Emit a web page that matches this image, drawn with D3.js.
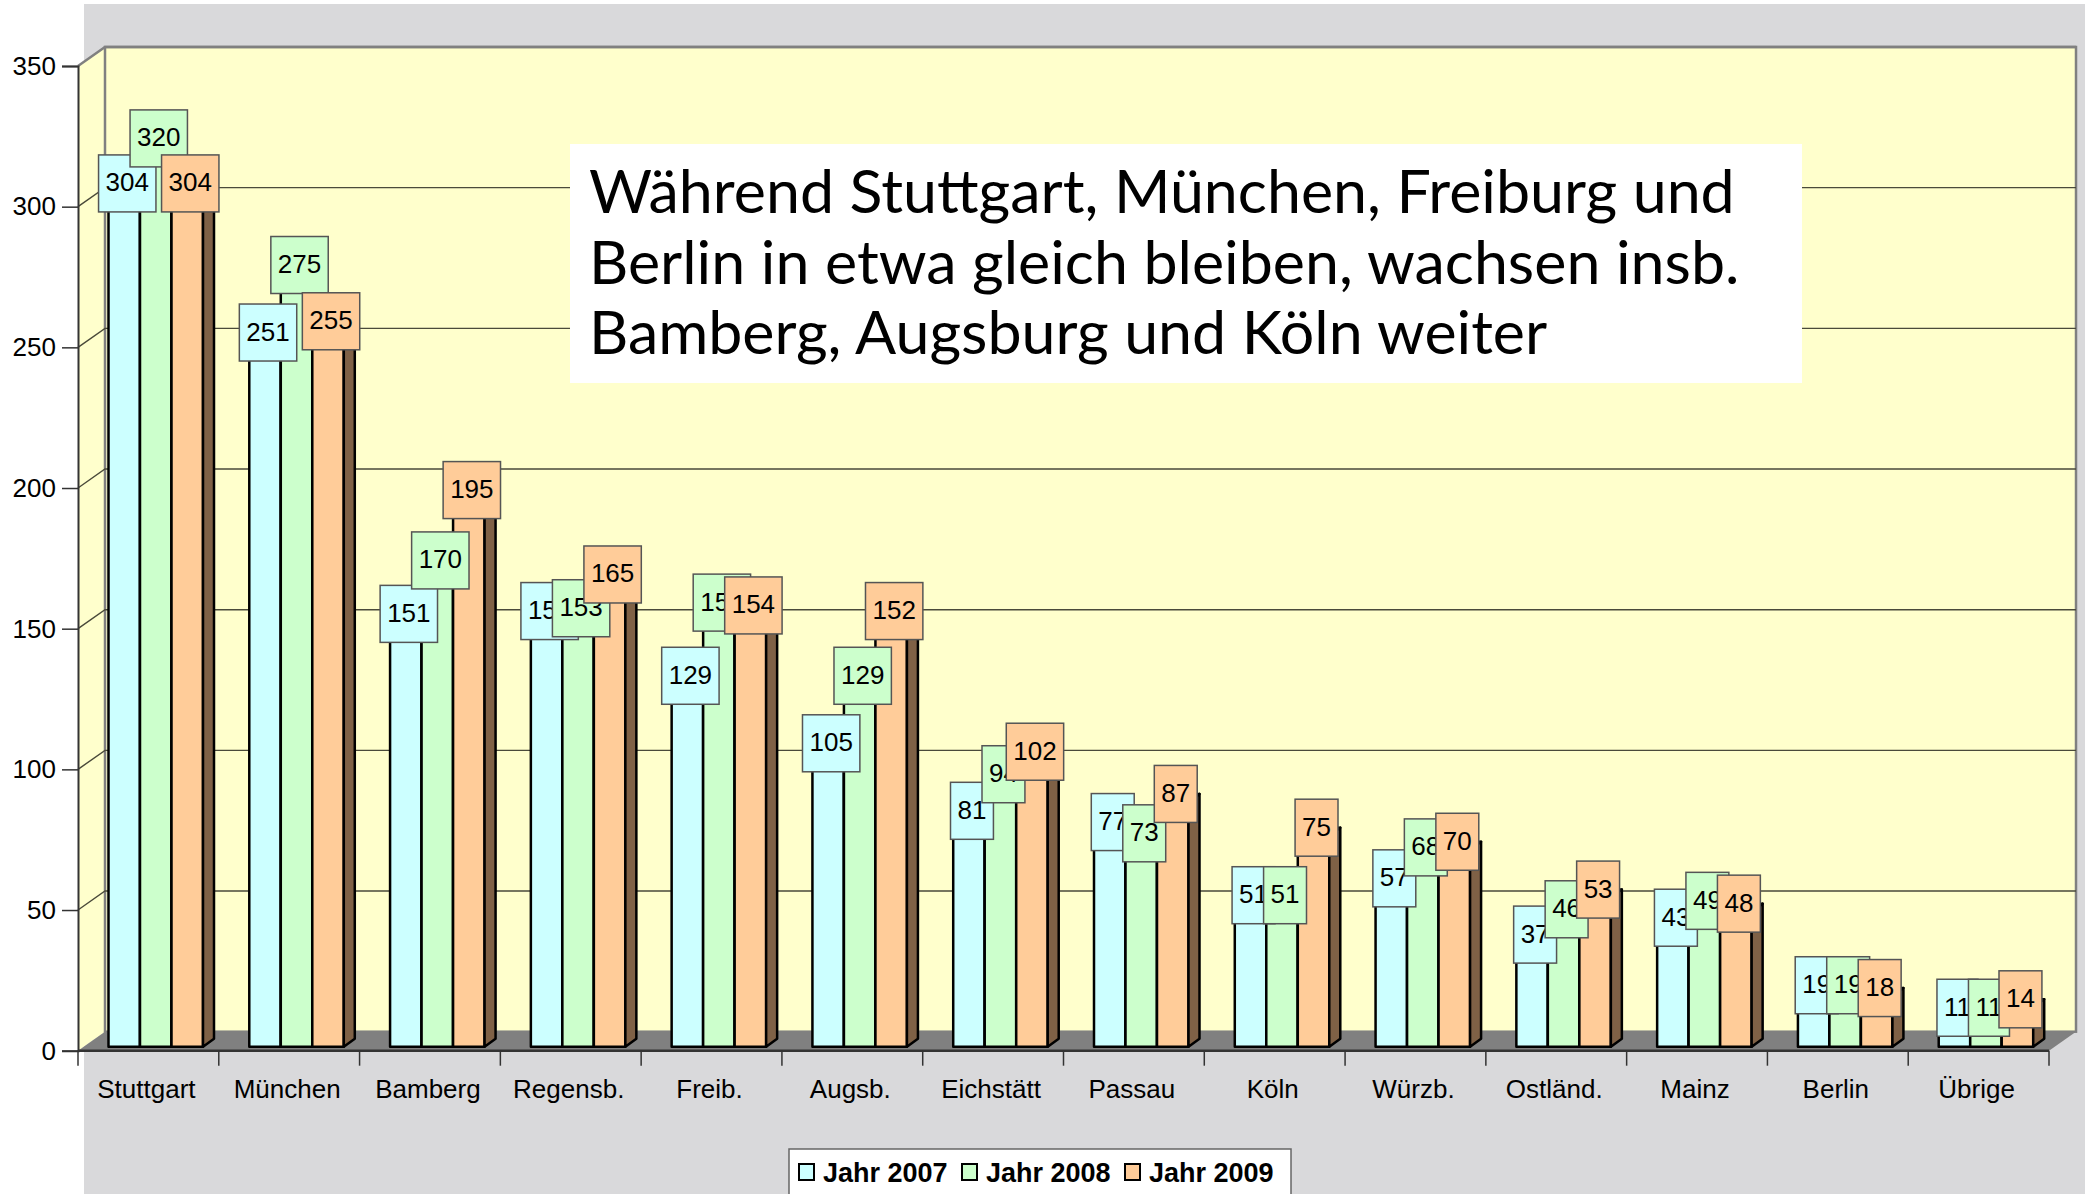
<!DOCTYPE html>
<html>
<head>
<meta charset="utf-8">
<script src="https://cdn.jsdelivr.net/npm/d3@7"></script>
<style>
  body { margin: 0; background: #fff; }
  svg { display: block; }
</style>
</head>
<body>
<div id="chart"></div>
<script>
const categories = ["Stuttgart", "München", "Bamberg", "Regensb.", "Freib.", "Augsb.", "Eichstätt", "Passau", "Köln", "Würzb.", "Ostländ.", "Mainz", "Berlin", "Übrige"];
const series = ["Jahr 2007", "Jahr 2008", "Jahr 2009"];
const values2007 = [304, 251, 151, 152, 129, 105, 81, 77, 51, 57, 37, 43, 19, 11];
const values2008 = [320, 275, 170, 153, 155, 129, 94, 73, 51, 68, 46, 49, 19, 11];
const values2009 = [304, 255, 195, 165, 154, 152, 102, 87, 75, 70, 53, 48, 18, 14];
const yTicks = [0, 50, 100, 150, 200, 250, 300, 350];
const noteLines = [
  "Während Stuttgart, München, Freiburg und",
  "Berlin in etwa gleich bleiben, wachsen insb.",
  "Bamberg, Augsburg und Köln weiter"
];

const colors = ["#ccffff", "#ccffcc", "#ffcc99"];
const sideColor = "#7f6146";
const allValues = [values2007, values2008, values2009];

const width = 2085, height = 1194;
const x0 = 78, x1 = 2049, yBase = 1050.7, yTop = 66;
const dx = 27, dy = -19;      // depth of the plot box
const bdx = 11, bdy = -8;     // depth of a bar
const font = "'Liberation Sans', Arial, sans-serif";

const x = d3.scaleBand().domain(categories).range([x0, x1]);
const xs = d3.scaleBand().domain(series).range([30.5, 125]);
const y = d3.scaleLinear().domain([0, 350]).range([yBase, yTop]);

const svg = d3.select("#chart").append("svg")
    .attr("width", width)
    .attr("height", height);

// grey panel behind the plot
svg.append("rect")
    .attr("x", 84).attr("y", 4)
    .attr("width", width - 84).attr("height", height - 4)
    .attr("fill", "#d9d9db");

const line = d3.line();

// side wall and back wall
svg.append("path")
    .attr("d", line([[x0, y(350)], [x0 + dx, y(350) + dy], [x0 + dx, yBase + dy], [x0, yBase]]) + "Z")
    .attr("fill", "#ffffcc");

svg.append("rect")
    .attr("x", x0 + dx).attr("y", y(350) + dy)
    .attr("width", x1 - x0).attr("height", yBase - y(350))
    .attr("fill", "#ffffcc")
    .attr("stroke", "#808080")
    .attr("stroke-width", 2.5);

// gridlines
svg.append("g")
  .selectAll("path")
  .data(yTicks.filter(d => d > 0))
  .join("path")
    .attr("d", d => line([[x0, y(d)], [x0 + dx, y(d) + dy], [x1 + dx, y(d) + dy]]))
    .attr("fill", "none")
    .attr("stroke", d => d === 350 ? "#808080" : "#4a4a3a")
    .attr("stroke-width", d => d === 350 ? 2.5 : 1.4);

// floor
svg.append("path")
    .attr("d", line([[x0, yBase], [x0 + dx, yBase + dy], [x1 + dx, yBase + dy], [x1, yBase]]) + "Z")
    .attr("fill", "#808080");

// y axis
const yAxis = svg.append("g")
    .attr("transform", `translate(${x0},0)`)
    .call(d3.axisLeft(y).tickValues(yTicks).tickSize(16).tickPadding(6));
yAxis.select(".domain").attr("stroke", "#333").attr("stroke-width", 2);
yAxis.selectAll(".tick line").attr("stroke", "#333").attr("stroke-width", 1.5);
yAxis.selectAll(".tick text")
    .attr("font-family", font)
    .attr("font-size", 26)
    .attr("fill", "#000");

// x axis baseline and ticks
svg.append("line")
    .attr("x1", x0).attr("x2", x1)
    .attr("y1", yBase).attr("y2", yBase)
    .attr("stroke", "#333").attr("stroke-width", 2.5);

svg.append("g")
  .selectAll("line")
  .data(categories.map(c => x(c)).concat([x1]))
  .join("line")
    .attr("x1", d => d).attr("x2", d => d)
    .attr("y1", yBase).attr("y2", yBase + 15)
    .attr("stroke", "#333").attr("stroke-width", 1.5);

svg.append("g")
  .selectAll("text")
  .data(categories)
  .join("text")
    .attr("x", d => x(d) + x.bandwidth() / 2 - 2)
    .attr("y", 1098)
    .attr("text-anchor", "middle")
    .attr("font-family", font)
    .attr("font-size", 26)
    .text(d => d);

// bars
const bars = svg.append("g")
    .attr("stroke", "#000")
    .attr("stroke-width", 2.5)
    .attr("stroke-linejoin", "round");

categories.forEach((cat, ci) => {
  series.forEach((s, si) => {
    const v = allValues[si][ci];
    const bx = x(cat) + xs(s);
    const bw = xs.bandwidth();
    const yt = y(v) - 4;
    const yb = yBase - 4;
    bars.append("rect")
        .attr("x", bx).attr("y", yt)
        .attr("width", bw).attr("height", yb - yt)
        .attr("fill", colors[si]);
    bars.append("path")
        .attr("d", line([[bx, yt], [bx + bdx, yt + bdy], [bx + bw + bdx, yt + bdy], [bx + bw, yt]]) + "Z")
        .attr("fill", colors[si]);
    bars.append("path")
        .attr("d", line([[bx + bw, yt], [bx + bw + bdx, yt + bdy], [bx + bw + bdx, yb + bdy], [bx + bw, yb]]) + "Z")
        .attr("fill", sideColor);
  });
});

// value labels: box width follows the text, like the original
const boxH = 57, boxPad = 7;
const labels = svg.append("g");
categories.forEach((cat, ci) => {
  series.forEach((s, si) => {
    const v = allValues[si][ci];
    const cx = x(cat) + xs(s) + xs.bandwidth() / 2 + 3;
    const cy = y(v) - 12;
    const g = labels.append("g");
    const box = g.append("rect");
    const t = g.append("text")
        .attr("x", cx).attr("y", cy + 8)
        .attr("text-anchor", "middle")
        .attr("font-family", font)
        .attr("font-size", 26)
        .text(v);
    const tw = t.node().getComputedTextLength();
    box.attr("x", cx - tw / 2 - boxPad).attr("y", cy - boxH / 2)
        .attr("width", tw + 2 * boxPad).attr("height", boxH)
        .attr("fill", colors[si])
        .attr("stroke", "#555")
        .attr("stroke-width", 1.5);
  });
});

// annotation box
svg.append("rect")
    .attr("x", 570).attr("y", 144)
    .attr("width", 1232).attr("height", 239)
    .attr("fill", "#fff");

const note = svg.append("g")
    .attr("font-family", "Lato, 'Open Sans', sans-serif")
    .attr("font-size", 60)
    .attr("fill", "#000");
const noteText = note.selectAll("text")
  .data(noteLines)
  .join("text")
    .attr("x", 589)
    .attr("y", (d, i) => 213 + i * 70.5)
    .text(d => d);
// fit first line to the width seen in the picture
const w0 = noteText.node().getComputedTextLength();
note.attr("font-size", 60 * 1146 / w0);

// legend
const legend = svg.append("g");
legend.append("rect")
    .attr("x", 789).attr("y", 1149)
    .attr("width", 502).attr("height", 60)
    .attr("fill", "#fff")
    .attr("stroke", "#666")
    .attr("stroke-width", 1.5);
const legendX = [799, 962, 1125];
series.forEach((s, i) => {
  legend.append("rect")
      .attr("x", legendX[i]).attr("y", 1164)
      .attr("width", 15).attr("height", 16)
      .attr("fill", colors[i])
      .attr("stroke", "#000")
      .attr("stroke-width", 2);
  legend.append("text")
      .attr("x", legendX[i] + 24).attr("y", 1182)
      .attr("font-family", font)
      .attr("font-size", 27)
      .attr("font-weight", "bold")
      .text(s);
});
</script>
</body>
</html>
